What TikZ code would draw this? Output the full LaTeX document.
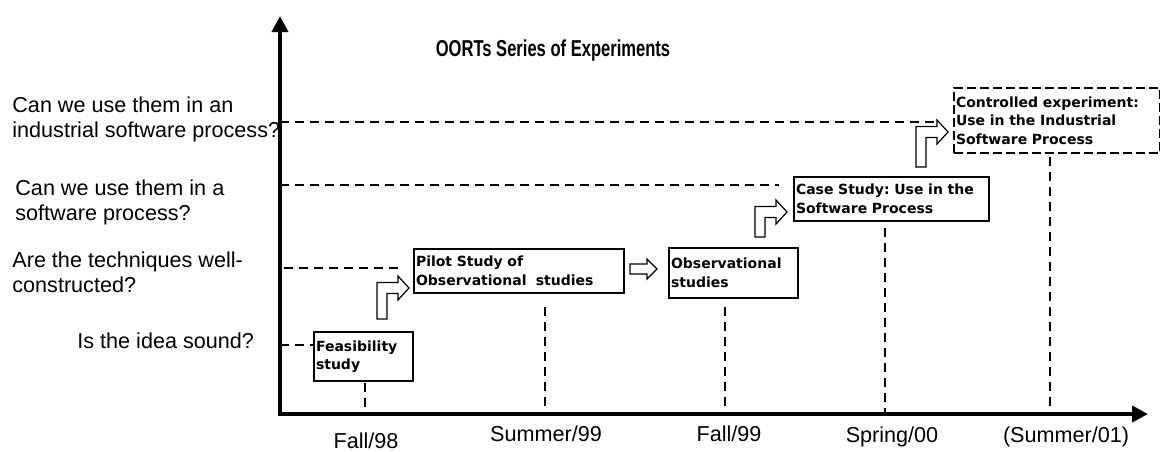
\documentclass[tikz,border=0pt]{standalone}
\usepackage{fontspec}
\setmainfont{Liberation Sans}
\newfontfamily\boxfont{DejaVu Sans}
\newfontfamily\titlefont[FakeStretch=0.72]{Liberation Sans}
\usetikzlibrary{arrows.meta}
\usetikzlibrary{calc}
\hyphenpenalty=10000
\frenchspacing

\tikzset{
  axis/.style={line width=2pt},
  guide/.style={line width=0.8pt, dash pattern=on 4.5pt off 3pt},
  stepbox/.style={draw, fill=white, line width=1pt, anchor=north west, align=left,
    inner xsep=1pt, inner ysep=0pt, font=\boxfont\bfseries\fontsize{7}{9.3}\selectfont},
  question/.style={anchor=north west, align=left, inner sep=0pt,
    font=\fontsize{10.8}{12.5}\selectfont},
  datelabel/.style={anchor=base, inner sep=0pt, font=\fontsize{10.8}{12}\selectfont},
  hollow/.style={line width=0.6pt, fill=white},
}

% bent hollow arrow: tip x, tip y, stem length
\newcommand{\bentarrow}[3]{%
  \draw[hollow] (#1-32,#2+#3) -- (#1-32,#2-5.5) -- (#1-11,#2-5.5) -- (#1-11,#2-12)
    -- (#1,#2) -- (#1-11,#2+12) -- (#1-11,#2+5.5) -- (#1-22,#2+5.5) -- (#1-22,#2+#3) -- cycle;}

\begin{document}
\begin{tikzpicture}[x=0.5pt, y=-0.5pt]
		\useasboundingbox (0,0) rectangle (1160,451);
		% axes
		\coordinate (O) at (280,414);
		\draw[axis, {Triangle[length=8pt,width=8pt]}-{Triangle[length=8pt,width=8pt]}] (280,16) -- (O) -- (1148,414);
		\node[font=\titlefont\bfseries\fontsize{11.5}{13}\selectfont] (title) at (553,51) {OORTs Series of Experiments};
		% questions
		\node[question] (q1) at (12,96) {Can we use them in an\\industrial software process?};
		\node[question] (q2) at (15,179) {Can we use them in a\\software process?};
		\node[question] (q3) at (12,251) {Are the techniques well-\\constructed?};
		\node[question] (q4) at (77,332) {Is the idea sound?};
		\draw[guide] (280,122) -- (935,122);
		\draw[guide] (280,185) -- (779,185);
		\draw[guide] (284,268) -- (403,268);
		\draw[guide] (280,345) -- (313,345);
		% time line
		\foreach \x/\top/\lx/\base/\lab [count=\i] in {365/383/366/448/{Fall/98}, 545/307/546/441/{Summer/99},
				725/307/729/441/{Fall/99}, 885/228/892/442/{Spring/00}, 1050/157/1066/442/{(Summer/01)}} {
			\draw[guide] (\x,\top) -- (\x,414);
			\node[datelabel] (t\i) at (\lx,\base) {\lab};
		}
		% experiments
		\node[stepbox, text width=47.5pt, minimum height=24.5pt] (feas) at (313,331) {Feasibility\\study};
		\node[stepbox, text width=103pt, minimum height=22pt] (pilot) at (413,248) {Pilot Study of\\Observational\ \ studies};
		\node[stepbox, text width=62.5pt, minimum height=25pt] (obs) at (668,247) {Observational\\studies};
		\node[stepbox, text width=95.5pt, minimum height=22pt] (case) at (793,176) {Case Study: Use in the\\Software Process};
		\node[stepbox, dash pattern=on 4.5pt off 2pt, text width=101pt, minimum height=32.5pt] (ctrl) at (953,87) {Controlled experiment:\\Use in the Industrial\\Software Process};
		% hollow arrows
		\bentarrow{409}{288}{31}
		\bentarrow{787}{212}{25}
		\bentarrow{948}{132}{35}
		\draw[hollow] (630,264) -- (647,264) -- (647,259) -- (657,269) -- (647,279) -- (647,274) -- (630,274) -- cycle;
\end{tikzpicture}
\end{document}
